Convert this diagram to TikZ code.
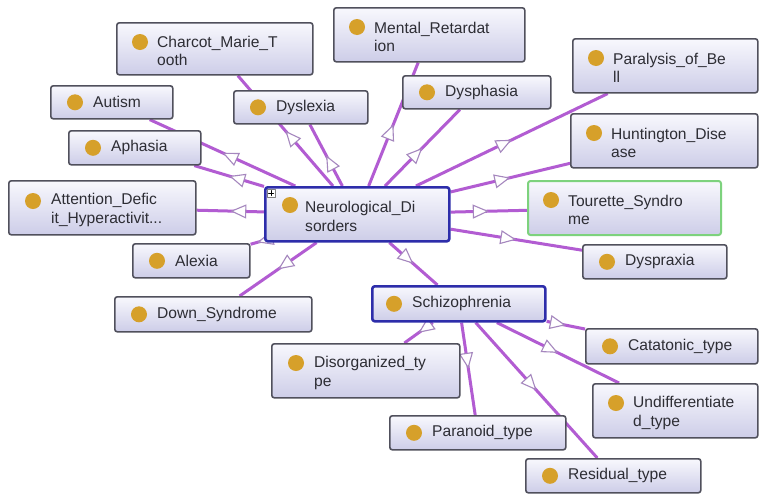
\documentclass[tikz,border=0pt]{standalone}
\usepackage{fontspec}
\setmainfont{Liberation Sans}
\usepackage{tikz}
\usetikzlibrary{arrows.meta,decorations.markings,backgrounds,calc}

\definecolor{edgepurple}{RGB}{178,92,210}
\definecolor{tipgray}{RGB}{165,135,190}
\definecolor{boxborder}{RGB}{80,80,92}
\definecolor{boxtop}{RGB}{248,248,253}
\definecolor{boxbottom}{RGB}{205,205,232}
\definecolor{classdot}{RGB}{214,160,42}
\definecolor{focusblue}{RGB}{45,45,170}
\definecolor{tourgreen}{RGB}{125,210,125}
\definecolor{labelgray}{RGB}{45,45,52}

\begin{document}
\begin{tikzpicture}[x=1pt,y=-1pt,line cap=round,line join=round,
  concept/.style={rectangle,rounded corners=2.5pt,draw=boxborder,line width=1.6pt,
    top color=boxtop,bottom color=boxbottom,inner sep=0pt,anchor=north west},
  focus/.style={concept,draw=focusblue,line width=2.6pt},
  picked/.style={concept,draw=tourgreen,line width=2pt},
  txt/.style={anchor=west,align=left,inner sep=0pt,text=labelgray,
    font=\fontsize{15.6}{18.5}\selectfont},
  dot/.style={fill=classdot},
  isa/.style={draw=edgepurple,line width=3pt,postaction={decorate},
    decoration={markings,mark=at position 0.5 with
      {\arrow{Triangle[length=16pt,width=14pt,color=tipgray,fill=white,line width=1.1pt]}}}}]
\useasboundingbox (0,0) rectangle (759,493);

% classes
\node[concept,minimum width=196,minimum height=52] (charcot) at (116,22) {};
\node[txt] (charcot-t) at ($(charcot.west)+(41,2)$) {Charcot\_Marie\_T\\ooth};
\fill[dot] ($(charcot.north west)+(24,20)$) circle (8pt);

\node[concept,minimum width=191,minimum height=54] (mental) at (333,7) {};
\node[txt] (mental-t) at ($(mental.west)+(41,2)$) {Mental\_Retardat\\ion};
\fill[dot] ($(mental.north west)+(24,20)$) circle (8pt);

\node[concept,minimum width=122,minimum height=33] (autism) at (50,85) {};
\node[txt] (autism-t) at ($(autism.west)+(43,0)$) {Autism};
\fill[dot] ($(autism.west)+(25,0)$) circle (8pt);

\node[concept,minimum width=134,minimum height=33] (dyslexia) at (233,90) {};
\node[txt] (dyslexia-t) at ($(dyslexia.west)+(43,0)$) {Dyslexia};
\fill[dot] ($(dyslexia.west)+(25,0)$) circle (8pt);

\node[concept,minimum width=148,minimum height=33] (dysphasia) at (402,75) {};
\node[txt] (dysphasia-t) at ($(dysphasia.west)+(43,0)$) {Dysphasia};
\fill[dot] ($(dysphasia.west)+(25,0)$) circle (8pt);

\node[concept,minimum width=185,minimum height=54] (paralysis) at (572,38) {};
\node[txt] (paralysis-t) at ($(paralysis.west)+(41,2)$) {Paralysis\_of\_Be\\ll};
\fill[dot] ($(paralysis.north west)+(24,20)$) circle (8pt);

\node[concept,minimum width=187,minimum height=54] (huntington) at (570,113) {};
\node[txt] (huntington-t) at ($(huntington.west)+(41,2)$) {Huntington\_Dise\\ase};
\fill[dot] ($(huntington.north west)+(24,20)$) circle (8pt);

\node[concept,minimum width=132,minimum height=34] (aphasia) at (68,130) {};
\node[txt] (aphasia-t) at ($(aphasia.west)+(43,0)$) {Aphasia};
\fill[dot] ($(aphasia.west)+(25,0)$) circle (8pt);

\node[concept,minimum width=187,minimum height=54] (attention) at (8,180) {};
\node[txt] (attention-t) at ($(attention.west)+(43,2)$) {Attention\_Defic\\it\_Hyperactivit...};
\fill[dot] ($(attention.north west)+(25,21)$) circle (8pt);

\node[focus,minimum width=184,minimum height=54] (neuro) at (264,186) {};
\node[txt] (neuro-t) at ($(neuro.west)+(41,2)$) {Neurological\_Di\\sorders};
\fill[dot] ($(neuro.north west)+(26,19)$) circle (8pt);
\draw[draw=gray,fill=white,line width=0.6pt] ($(neuro.north west)+(3,3)$) rectangle ($(neuro.north west)+(11,11)$);
\draw[line width=1pt,black] ($(neuro.north west)+(4.5,7)$) -- ($(neuro.north west)+(9.5,7)$)
  ($(neuro.north west)+(7,4.5)$) -- ($(neuro.north west)+(7,9.5)$);

\node[picked,minimum width=193,minimum height=54] (tourette) at (527,180) {};
\node[txt] (tourette-t) at ($(tourette.west)+(41,2)$) {Tourette\_Syndro\\me};
\fill[dot] ($(tourette.north west)+(24,20)$) circle (8pt);

\node[concept,minimum width=144,minimum height=34] (dyspraxia) at (582,244) {};
\node[txt] (dyspraxia-t) at ($(dyspraxia.west)+(43,0)$) {Dyspraxia};
\fill[dot] ($(dyspraxia.west)+(25,0)$) circle (8pt);

\node[concept,minimum width=117,minimum height=34] (alexia) at (132,243) {};
\node[txt] (alexia-t) at ($(alexia.west)+(43,0)$) {Alexia};
\fill[dot] ($(alexia.west)+(25,0)$) circle (8pt);

\node[concept,minimum width=197,minimum height=35] (down) at (114,296) {};
\node[txt] (down-t) at ($(down.west)+(43,0)$) {Down\_Syndrome};
\fill[dot] ($(down.west)+(25,0)$) circle (8pt);

\node[focus,minimum width=173,minimum height=35] (schizo) at (371,285) {};
\node[txt] (schizo-t) at ($(schizo.west)+(41,0)$) {Schizophrenia};
\fill[dot] ($(schizo.west)+(23,0)$) circle (8pt);

\node[concept,minimum width=172,minimum height=35] (catatonic) at (585,328) {};
\node[txt] (catatonic-t) at ($(catatonic.west)+(43,0)$) {Catatonic\_type};
\fill[dot] ($(catatonic.west)+(25,0)$) circle (8pt);

\node[concept,minimum width=188,minimum height=54] (disorganized) at (271,343) {};
\node[txt] (disorganized-t) at ($(disorganized.west)+(43,2)$) {Disorganized\_ty\\pe};
\fill[dot] ($(disorganized.north west)+(25,20)$) circle (8pt);

\node[concept,minimum width=165,minimum height=54] (undiff) at (592,383) {};
\node[txt] (undiff-t) at ($(undiff.west)+(41,2)$) {Undifferentiate\\d\_type};
\fill[dot] ($(undiff.north west)+(24,20)$) circle (8pt);

\node[concept,minimum width=176,minimum height=34] (paranoid) at (389,415) {};
\node[txt] (paranoid-t) at ($(paranoid.west)+(43,0)$) {Paranoid\_type};
\fill[dot] ($(paranoid.west)+(25,0)$) circle (8pt);

\node[concept,minimum width=175,minimum height=34] (residual) at (525,458) {};
\node[txt] (residual-t) at ($(residual.west)+(43,0)$) {Residual\_type};
\fill[dot] ($(residual.west)+(25,0)$) circle (8pt);

% subclass links, behind the boxes
\begin{scope}[on background layer]
\fill[white] (0,0) rectangle (759,493);
\draw[isa] (neuro) -- (charcot);
\draw[isa] (neuro) -- (mental);
\draw[isa] (neuro) -- (autism);
\draw[isa] (neuro) -- (dyslexia);
\draw[isa] (neuro) -- (dysphasia);
\draw[isa] (neuro) -- (paralysis);
\draw[isa] (neuro) -- (huntington);
\draw[isa] (neuro) -- (aphasia);
\draw[isa] (neuro) -- (attention);
\draw[isa] (neuro) -- (tourette);
\draw[isa] (neuro) -- (dyspraxia);
\draw[isa] (neuro) -- (alexia);
\draw[isa] (neuro) -- (down);
\draw[isa] (neuro) -- (schizo);
\draw[isa] (schizo) -- (catatonic);
\draw[isa] (schizo) -- (disorganized);
\draw[isa] (schizo) -- (undiff);
\draw[isa] (schizo) -- (paranoid);
\draw[isa] (schizo) -- (residual);
\end{scope}
\end{tikzpicture}
\end{document}
